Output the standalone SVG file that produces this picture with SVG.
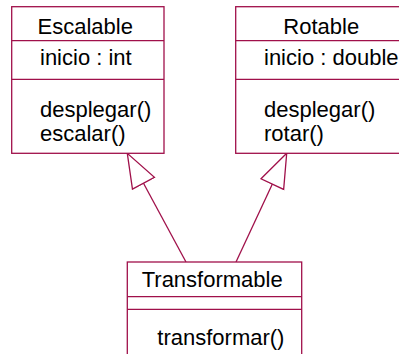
<svg xmlns="http://www.w3.org/2000/svg" width="399" height="354" viewBox="0 0 399 354">
  <style>
    .box { fill: #ffffff; stroke: #a0104a; stroke-width: 1.3; }
    .sep { stroke: #a0104a; stroke-width: 1.3; }
    .edge { stroke: #a0104a; stroke-width: 1.3; fill: none; }
    text { font-family: "Liberation Sans", Arial, sans-serif; font-size: 22px; fill: #000000; }
  </style>
  <defs>
    <!-- hollow generalization triangle, tip at the parent class -->
    <marker id="inherit" viewBox="-1 -1 37 28" refX="34" refY="12.5" markerWidth="37" markerHeight="28" markerUnits="userSpaceOnUse" orient="auto">
      <path d="M0,0 L34,12.5 L0,25 Z" fill="#ffffff" stroke="#a0104a" stroke-width="1.3"/>
    </marker>
  </defs>
  <rect width="399" height="354" fill="#ffffff"/>

  <g id="connectors">
    <line class="edge" x1="186" y1="262" x2="127.3" y2="153.3" marker-end="url(#inherit)"/>
    <line class="edge" x1="236" y1="262" x2="286.7" y2="153.3" marker-end="url(#inherit)"/>
  </g>

  <g id="escalable">
    <rect class="box" x="11.7" y="6.7" width="152.3" height="146.6"/>
    <line class="sep" x1="11.7" y1="40.7" x2="164" y2="40.7"/>
    <line class="sep" x1="11.7" y1="79.3" x2="164" y2="79.3"/>
    <text x="37.5" y="34">Escalable</text>
    <text x="40" y="65">inicio : int</text>
    <text x="40" y="117">desplegar()</text>
    <text x="40" y="141">escalar()</text>
  </g>

  <g id="rotable">
    <rect class="box" x="235.7" y="6.7" width="180" height="146.6"/>
    <line class="sep" x1="235.7" y1="40.7" x2="415.7" y2="40.7"/>
    <line class="sep" x1="235.7" y1="79.3" x2="415.7" y2="79.3"/>
    <text x="283.3" y="34">Rotable</text>
    <text x="264" y="65">inicio : double</text>
    <text x="264" y="117">desplegar()</text>
    <text x="264" y="141">rotar()</text>
  </g>

  <g id="transformable">
    <rect class="box" x="127.3" y="262" width="174.4" height="110"/>
    <line class="sep" x1="127.3" y1="296.7" x2="301.7" y2="296.7"/>
    <line class="sep" x1="127.3" y1="309.3" x2="301.7" y2="309.3"/>
    <text x="141.7" y="287.3">Transformable</text>
    <text x="157.3" y="345">transformar()</text>
  </g>
</svg>
